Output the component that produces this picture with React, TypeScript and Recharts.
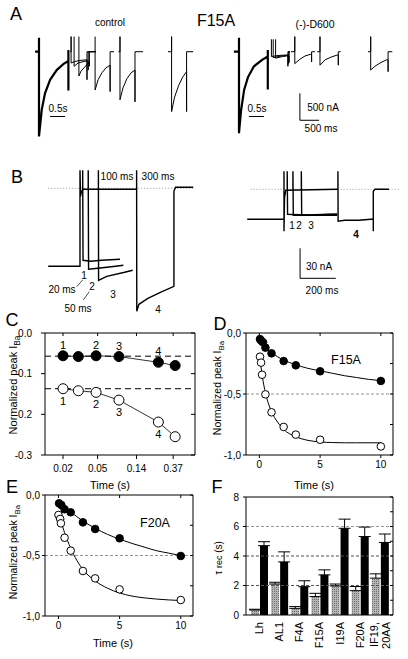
import React from 'react';
import {
  LineChart,
  Line,
  XAxis,
  YAxis,
  ReferenceLine,
  LabelList,
  BarChart,
  Bar,
  ErrorBar,
} from 'recharts';

const FONT = '"Liberation Sans", Arial, Helvetica, sans-serif';

// ---- panel A: current traces, time in s, current in µA ----
const ctlPrepulse = [[0.17, 0], [0.3, 0], [0.3, 0.26], [0.3, -1.57], [0.39, -1.08], [0.5, -0.77], [0.67, -0.52], [0.89, -0.34], [1.11, -0.23], [1.28, -0.17], [1.28, 0.03], [1.28, -0.72]];
const ctlTest1 = [[1.34, 0], [1.37, 0], [1.37, 0.28], [1.37, -0.21], [1.5, -0.18], [1.7, -0.16], [1.9, -0.15], [1.9, -0.52], [1.9, 0], [2.2, 0]];
const ctlTest2 = [[1.47, 0.28], [1.47, -0.27], [1.6, -0.21], [1.8, -0.18], [1.94, -0.17], [1.94, -0.34], [1.94, 0], [2.2, 0]];
const ctlTest3 = [[1.63, 0.28], [1.63, -0.45], [1.7, -0.36], [1.8, -0.3], [1.98, -0.19], [1.98, -0.27], [1.98, 0], [2.2, 0]];
const ctlTest4 = [[2.17, 0.28], [2.17, -0.71], [2.27, -0.52], [2.4, -0.39], [2.53, -0.3], [2.67, -0.25], [2.67, -0.74], [2.67, 0], [2.8, 0]];
const ctlTest5 = [[2.95, 0], [3.0, 0], [3.0, 0.28], [3.0, -0.89], [3.1, -0.67], [3.23, -0.5], [3.37, -0.39], [3.5, -0.34], [3.5, -0.93], [3.5, 0], [3.77, 0]];
const ctlTest6 = [[4.6, 0], [4.72, 0], [4.72, 0.28], [4.72, -1.11], [4.82, -0.84], [4.96, -0.62], [5.09, -0.47], [5.22, -0.37], [5.22, -1.11], [5.22, 0], [5.44, 0]];

const d600Prepulse = [[0.13, 0], [0.3, 0], [0.3, 0.26], [0.3, -1.51], [0.37, -1.08], [0.47, -0.71], [0.6, -0.47], [0.8, -0.27], [1.07, -0.15], [1.26, -0.09], [1.26, 0.03], [1.26, -0.7]];
const d600Test1 = [[1.38, 0.23], [1.38, -0.09], [1.6, -0.07], [1.93, -0.06], [1.93, -0.27], [1.93, 0], [2.0, 0]];
const d600Test2 = [[1.44, 0.23], [1.44, -0.11], [1.7, -0.08], [1.95, -0.07], [1.95, -0.22], [1.95, 0], [2.0, 0]];
const d600Test3 = [[1.52, 0.23], [1.52, -0.12], [1.75, -0.09], [1.97, -0.07], [1.97, -0.2], [1.97, 0], [2.0, 0]];
const d600Test4 = [[2.03, 0], [2.16, 0], [2.16, 0.28], [2.16, -0.22], [2.33, -0.14], [2.5, -0.08], [2.67, -0.05], [2.72, -0.05], [2.72, -0.19], [2.72, 0], [2.83, 0]];
const d600Test5 = [[2.91, 0], [3.0, 0], [3.0, 0.28], [3.0, -0.25], [3.17, -0.15], [3.37, -0.1], [3.58, -0.06], [3.61, -0.06], [3.61, -0.25], [3.61, 0], [3.69, 0]];
const d600Test6 = [[4.6, 0], [4.69, 0], [4.69, 0.28], [4.69, -0.34], [4.83, -0.27], [5.0, -0.21], [5.22, -0.15], [5.27, -0.15], [5.27, -0.37], [5.27, 0], [5.41, 0]];

// ---- panel B: time in ms after repolarisation, current in nA ----
const bCtlHold = [[-178, -78], [-12, -78], [0, -78], [0, 18], [3, -8], [8, -3], [20, -1], [317, -1]];
const bCtl1 = [[15, -1], [15, 18], [17, -72], [60, -73], [120, -72], [224, -71]];
const bCtl2 = [[46, -1], [46, 18], [48, -81], [100, -80], [200, -78], [243, -77]];
const bCtl3 = [[103, -1], [103, 18], [104, -92], [150, -88], [250, -84], [295, -82]];
const bCtl4 = [[317, -1], [317, 18], [318, -123], [330, -116], [380, -110], [450, -104], [526, -98], [526, -3], [535, 1], [634, 1]];

const bD600Hold = [[-206, -30], [0, -30], [0, 18], [0, -42], [3, -8], [10, -1], [302, 0]];
const bD6001 = [[18, 0], [18, 18], [20, -25], [150, -26], [298, -25]];
const bD6002 = [[50, 0], [50, 18], [52, -26], [200, -26], [298, -26]];
const bD6003 = [[97, 0], [97, 18], [99, -26], [250, -25], [298, -25]];
const bD6004 = [[302, 0], [302, 18], [303, -32], [340, -31], [420, -31], [486, -30], [500, -30], [500, -42], [500, -2], [510, 0], [588, 0]];

// ---- panel C ----
const cTimes = [0.02, 0.03, 0.048, 0.088, 0.25, 0.39];
const cFilled = [-0.056, -0.058, -0.056, -0.058, -0.072, -0.08];
const cOpen = [-0.137, -0.142, -0.146, -0.165, -0.219, -0.255];
const cFilledLabels = ['1', '', '2', '3', '4', ''];
const cOpenLabels = ['1', '', '2', '3', '4', ''];
const cPlateaus = [-0.057, -0.137];

// ---- panel D (F15A) ----
const dFilledT = [0.05, 0.15, 0.3, 0.5, 1, 2, 3, 5, 10];
const dFilled = [-0.05, -0.063, -0.076, -0.12, -0.167, -0.23, -0.265, -0.314, -0.393];
const dOpenT = [0.05, 0.14, 0.22, 0.5, 1, 2, 3, 5, 10];
const dOpen = [-0.194, -0.243, -0.342, -0.503, -0.65, -0.77, -0.833, -0.875, -0.93];
const dFitFilledT = [0, 0.25, 0.5, 1, 1.5, 2, 3, 4, 5, 6, 7, 8, 9, 10];
const dFitFilled = [-0.035, -0.08, -0.115, -0.16, -0.195, -0.222, -0.26, -0.29, -0.31, -0.33, -0.35, -0.365, -0.38, -0.39];
const dFitOpenT = [0, 0.25, 0.5, 0.75, 1, 1.5, 2, 3, 4, 5, 6, 7, 8, 10];
const dFitOpen = [-0.17, -0.36, -0.49, -0.58, -0.645, -0.73, -0.79, -0.85, -0.88, -0.893, -0.898, -0.9, -0.9, -0.9];

// ---- panel E (F20A) ----
const eFilledT = [0.05, 0.24, 0.5, 1, 2, 3, 5, 10];
const eFilled = [-0.069, -0.083, -0.118, -0.143, -0.226, -0.281, -0.358, -0.504];
const eOpenT = [0, 0.14, 0.2, 0.5, 1, 2, 3, 5, 10];
const eOpen = [-0.165, -0.198, -0.234, -0.353, -0.46, -0.628, -0.689, -0.78, -0.868];
const eFitFilledT = [0, 1, 2, 3, 4, 5, 6, 7, 8, 9, 10];
const eFitFilled = [-0.06, -0.14, -0.215, -0.275, -0.325, -0.365, -0.4, -0.43, -0.46, -0.48, -0.5];
const eFitOpenT = [0, 0.5, 1, 1.5, 2, 3, 4, 5, 6, 7, 8, 9, 10];
const eFitOpen = [-0.15, -0.31, -0.44, -0.54, -0.615, -0.71, -0.77, -0.81, -0.835, -0.85, -0.86, -0.867, -0.872];

// ---- panel F ----
const constructs = ['Lh', 'AL1', 'F4A', 'F15A', 'I19A', 'F20A', 'IF19,\n20AA'];
const tauControl = [0.34, 2.1, 0.45, 1.25, 1.97, 1.65, 2.5];
const tauControlErr = [0.05, 0.12, 0.12, 0.22, 0.13, 0.28, 0.29];
const tauD600 = [4.7, 3.6, 1.92, 2.72, 5.88, 5.32, 4.92];
const tauD600Err = [0.27, 0.68, 0.4, 0.34, 0.62, 0.64, 0.57];

const toPts = (arr: number[][]) => arr.map(([t, v]) => ({ t, v }));
const zipPts = (ts: number[], vs: number[], labels?: string[]) =>
  ts.map((t, k) => ({ t, v: vs[k], lab: labels ? labels[k] : '' }));

const fData = constructs.map((name, k) => ({
  name,
  gray: tauControl[k],
  grayE: [0, tauControlErr[k]],
  black: tauD600[k],
  blackE: [0, tauD600Err[k]],
}));

const Txt = ({ x, y, s = 10, children, bold = false }: any) => (
  <div
    style={{
      position: 'absolute',
      left: x,
      top: y,
      fontSize: s,
      lineHeight: 1,
      whiteSpace: 'nowrap',
      fontWeight: bold ? 'bold' : 'normal',
      transform: 'translate(-50%, -50%)',
    }}
  >
    {children}
  </div>
);

const VTxt = ({ x, y, s = 10, children }: any) => (
  <div
    style={{
      position: 'absolute',
      left: x,
      top: y,
      fontSize: s,
      lineHeight: 1,
      whiteSpace: 'nowrap',
      transform: 'translate(-50%, -50%) rotate(-90deg)',
    }}
  >
    {children}
  </div>
);

const TraceChart = ({ left, top, width, height, xDomain, yDomain, sweeps, thick = [], lw = 1, extras = [] }: any) => (
  <div style={{ position: 'absolute', left, top }}>
    <LineChart width={width} height={height} margin={{ top: 0, right: 0, bottom: 0, left: 0 }}>
      <XAxis type="number" dataKey="t" domain={xDomain} allowDataOverflow hide />
      <YAxis type="number" domain={yDomain} allowDataOverflow hide />
      {extras}
      {sweeps.map((s: number[][], k: number) => (
        <Line
          key={k}
          data={toPts(s)}
          dataKey="v"
          type="linear"
          stroke="#000"
          strokeWidth={thick.includes(k) ? 2.2 : lw}
          dot={false}
          isAnimationActive={false}
        />
      ))}
    </LineChart>
  </div>
);

const seg = (x1: number, y1: number, x2: number, y2: number, k: string, props: any = {}) => (
  <ReferenceLine
    key={k}
    segment={[{ x: x1, y: y1 }, { x: x2, y: y2 }]}
    stroke="#000"
    strokeWidth={1}
    {...props}
  />
);

const axisStyle = { fill: '#000', fontSize: 10 };
const blank = () => '';
const comma = (v: number) => v.toFixed(1).replace('.', ',');

const TimeCourse = ({ left, top, width, height, yWidth, right, fitF, fitO, ptsF, ptsO }: any) => (
  <div style={{ position: 'absolute', left, top }}>
    <LineChart width={width} height={height} margin={{ top: 10, right, bottom: 0, left: 0 }}>
      <XAxis type="number" dataKey="t" domain={[-1.1, 11]} allowDataOverflow ticks={[0, 5, 10]} tickSize={3} tickMargin={3} height={20} stroke="#000" tick={axisStyle} />
      <XAxis xAxisId="top" orientation="top" mirror type="number" dataKey="t" domain={[-1.1, 11]} allowDataOverflow ticks={[0, 5, 10]} tickSize={3} tickFormatter={blank} stroke="#000" />
      <YAxis type="number" domain={[-1, 0]} allowDataOverflow ticks={[0, -0.5, -1]} tickFormatter={comma} width={yWidth} tickSize={3} tickMargin={2} stroke="#000" tick={axisStyle} />
      <YAxis yAxisId="r" orientation="right" mirror type="number" domain={[-1, 0]} allowDataOverflow ticks={[0, -0.25, -0.5, -0.75, -1]} tickFormatter={blank} tickSize={3} stroke="#000" />
      <ReferenceLine y={-0.5} stroke="#777" strokeDasharray="3 2" strokeWidth={0.8} />
      <Line data={fitF} dataKey="v" type="monotone" stroke="#000" strokeWidth={1} dot={false} isAnimationActive={false} />
      <Line data={fitO} dataKey="v" type="monotone" stroke="#000" strokeWidth={1} dot={false} isAnimationActive={false} />
      <Line data={ptsO} dataKey="v" stroke="none" strokeWidth={0} dot={{ r: 3.8, fill: '#fff', stroke: '#000', strokeWidth: 1 }} isAnimationActive={false} />
      <Line data={ptsF} dataKey="v" stroke="none" strokeWidth={0} dot={{ r: 3.8, fill: '#000', stroke: '#000', strokeWidth: 1 }} isAnimationActive={false} />
    </LineChart>
  </div>
);

const CatTick = ({ x, y, payload }: any) => {
  const lines = String(payload.value).split('\n');
  return (
    <g transform={`translate(${x},${y + 5})`}>
      <text transform="rotate(-90)" textAnchor="end" fontSize={11} fill="#000">
        {lines.map((l, k) => (
          <tspan key={k} x={0} dy={k === 0 ? (lines.length > 1 ? '-0.2em' : '0.35em') : '1.1em'}>
            {l}
          </tspan>
        ))}
      </text>
    </g>
  );
};

const Ylabel = () => (
  <span>
    Normalized peak I<sub style={{ fontSize: '0.75em' }}>Ba</sub>
  </span>
);

export default function App() {
  const cF = zipPts(cTimes, cFilled, cFilledLabels);
  const cO = zipPts(cTimes, cOpen, cOpenLabels);

  return (
    <div
      style={{
        position: 'absolute',
        left: 0,
        top: 0,
        width: 408,
        height: 659,
        background: '#fff',
        fontFamily: FONT,
        color: '#000',
        overflow: 'hidden',
      }}
    >
      {/* ---------- A ---------- */}
      <Txt x={16} y={14} s={18}>A</Txt>
      <Txt x={110} y={23} s={10}>control</Txt>
      <Txt x={216} y={21} s={16}>F15A</Txt>
      <Txt x={315} y={24} s={10.5}>(-)-D600</Txt>
      <TraceChart
        left={30}
        top={30}
        width={170}
        height={115}
        xDomain={[0, 5.667]}
        yDomain={[-1.728, 0.402]}
        sweeps={[ctlPrepulse, ctlTest1, ctlTest2, ctlTest3, ctlTest4, ctlTest5, ctlTest6]}
        thick={[0]}
        extras={[seg(0.67, -1.2, 1.17, -1.2, 'sb1')]}
      />
      <TraceChart
        left={230}
        top={30}
        width={170}
        height={115}
        xDomain={[0, 5.667]}
        yDomain={[-1.728, 0.402]}
        sweeps={[d600Prepulse, d600Test1, d600Test2, d600Test3, d600Test4, d600Test5, d600Test6]}
        thick={[0]}
        extras={[
          seg(0.63, -1.2, 1.13, -1.2, 'sb2'),
          seg(2.33, -0.77, 2.33, -1.27, 'sb3'),
          seg(2.33, -1.27, 2.97, -1.27, 'sb4'),
        ]}
      />
      <Txt x={58} y={109} s={10}>0.5s</Txt>
      <Txt x={257} y={109} s={10}>0.5s</Txt>
      <Txt x={323} y={108} s={10}>500 nA</Txt>
      <Txt x={321} y={129} s={10}>500 ms</Txt>

      {/* ---------- B ---------- */}
      <Txt x={17} y={177} s={18}>B</Txt>
      <TraceChart
        left={45}
        top={165}
        width={155}
        height={150}
        xDomain={[-196, 672]}
        yDomain={[-126.7, 23.3]}
        sweeps={[bCtlHold, bCtl1, bCtl2, bCtl3, bCtl4]}
        lw={1.4}
        extras={[
          seg(-178, 0, 634, 0, 'bl1', { stroke: '#999', strokeDasharray: '1 2' }),
          seg(-18.5, -98.4, 15, -91.7, 'lb1', { strokeWidth: 0.7 }),
          seg(18.5, -111.7, 52, -103.4, 'lb2', { strokeWidth: 0.7 }),
        ]}
      />
      <TraceChart
        left={245}
        top={165}
        width={160}
        height={135}
        xDomain={[-218.4, 677.6]}
        yDomain={[-110.7, 24.3]}
        sweeps={[bD600Hold, bD6001, bD6002, bD6003, bD6004]}
        lw={1.4}
        extras={[
          seg(-187, 0, 653, 0, 'bl2', { stroke: '#999', strokeDasharray: '1 2' }),
          seg(90, -59, 90, -89, 'sb5'),
          seg(90, -89, 290, -89, 'sb6'),
        ]}
      />
      <Txt x={117} y={177} s={10}>100 ms</Txt>
      <Txt x={158} y={177} s={10}>300 ms</Txt>
      <Txt x={62} y={290} s={10}>20 ms</Txt>
      <Txt x={84} y={276} s={10}>1</Txt>
      <Txt x={92} y={287} s={10}>2</Txt>
      <Txt x={78} y={309} s={10}>50 ms</Txt>
      <Txt x={113} y={295} s={10}>3</Txt>
      <Txt x={158} y={310} s={10}>4</Txt>
      <Txt x={292} y={226} s={10}>1</Txt>
      <Txt x={299} y={226} s={10}>2</Txt>
      <Txt x={311} y={226} s={10}>3</Txt>
      <Txt x={356} y={235} s={10} bold>4</Txt>
      <Txt x={319} y={267} s={10}>30 nA</Txt>
      <Txt x={322} y={291} s={10}>200 ms</Txt>

      {/* ---------- C ---------- */}
      <Txt x={12} y={320} s={18}>C</Txt>
      <div style={{ position: 'absolute', left: 0, top: 323 }}>
        <LineChart width={205} height={162} margin={{ top: 10, right: 10, bottom: 0, left: 0 }}>
          <XAxis type="number" dataKey="t" scale="log" domain={[0.0124, 0.66]} allowDataOverflow ticks={[0.02, 0.05, 0.14, 0.37]} tickFormatter={(v: number) => String(v)} tickSize={4} tickMargin={6} height={30} stroke="#000" tick={axisStyle} />
          <XAxis xAxisId="top" orientation="top" mirror type="number" dataKey="t" scale="log" domain={[0.0124, 0.66]} allowDataOverflow ticks={[0.02, 0.05, 0.14, 0.37]} tickFormatter={blank} tickSize={3} stroke="#000" />
          <YAxis type="number" domain={[-0.3, 0]} allowDataOverflow ticks={[0, -0.1, -0.2, -0.3]} tickFormatter={(v: number) => v.toFixed(1)} width={45} tickSize={4} tickMargin={9} stroke="#000" tick={axisStyle} />
          <YAxis yAxisId="r" orientation="right" mirror type="number" domain={[-0.3, 0]} allowDataOverflow ticks={[0, -0.1, -0.2, -0.3]} tickFormatter={blank} tickSize={4} stroke="#000" />
          {cPlateaus.map((p) => (
            <ReferenceLine key={p} y={p} stroke="#000" strokeDasharray="6 4" strokeWidth={1} />
          ))}
          <Line data={cO} dataKey="v" type="linear" stroke="#000" strokeWidth={0.8} dot={{ r: 5, fill: '#fff', stroke: '#000', strokeWidth: 1 }} isAnimationActive={false}>
            <LabelList dataKey="lab" position="bottom" offset={8} fontSize={11} fill="#000" />
          </Line>
          <Line data={cF} dataKey="v" type="linear" stroke="#000" strokeWidth={0.8} dot={{ r: 5, fill: '#000', stroke: '#000', strokeWidth: 1 }} isAnimationActive={false}>
            <LabelList dataKey="lab" position="top" offset={7} fontSize={11} fill="#000" />
          </Line>
        </LineChart>
      </div>
      <VTxt x={15} y={385} s={11}><Ylabel /></VTxt>
      <Txt x={110} y={485} s={11}>Time (s)</Txt>

      {/* ---------- D ---------- */}
      <Txt x={220} y={324} s={18}>D</Txt>
      <TimeCourse
        left={204}
        top={323}
        width={204}
        height={152}
        yWidth={42}
        right={15}
        fitF={zipPts(dFitFilledT, dFitFilled)}
        fitO={zipPts(dFitOpenT, dFitOpen)}
        ptsF={zipPts(dFilledT, dFilled)}
        ptsO={zipPts(dOpenT, dOpen)}
      />
      <Txt x={346} y={360} s={12.5}>F15A</Txt>
      <VTxt x={219} y={388} s={10.5}><Ylabel /></VTxt>
      <Txt x={314} y={485} s={11}>Time (s)</Txt>

      {/* ---------- E ---------- */}
      <Txt x={12} y={487} s={18}>E</Txt>
      <TimeCourse
        left={0}
        top={485}
        width={204}
        height={151}
        yWidth={45}
        right={11}
        fitF={zipPts(eFitFilledT, eFitFilled)}
        fitO={zipPts(eFitOpenT, eFitOpen)}
        ptsF={zipPts(eFilledT, eFilled)}
        ptsO={zipPts(eOpenT, eOpen)}
      />
      <Txt x={155} y={523} s={12.5}>F20A</Txt>
      <VTxt x={15} y={552} s={10.5}><Ylabel /></VTxt>
      <Txt x={113} y={643} s={11}>Time (s)</Txt>

      {/* ---------- F ---------- */}
      <Txt x={217} y={487} s={18}>F</Txt>
      <div style={{ position: 'absolute', left: 204, top: 487 }}>
        <BarChart width={204} height={172} data={fData} margin={{ top: 10, right: 15, bottom: 0, left: 0 }} barGap={1} barSize={8}>
          <defs>
            <pattern id="dotFill" width={2} height={2} patternUnits="userSpaceOnUse">
              <rect width={2} height={2} fill="#b4b4b4" />
              <rect width={1} height={1} fill="#707070" />
            </pattern>
          </defs>
          <XAxis dataKey="name" interval={0} tickSize={0} tickLine={false} height={44} padding={{ left: 3, right: 3 }} stroke="#000" tick={<CatTick />} />
          <XAxis xAxisId="top" orientation="top" mirror dataKey="name" tick={false} tickLine={false} padding={{ left: 3, right: 3 }} stroke="#000" />
          <YAxis type="number" domain={[0, 8]} allowDataOverflow ticks={[0, 2, 4, 6, 8]} width={42} tickSize={3} tickMargin={4} stroke="#000" tick={axisStyle} />
          <YAxis yAxisId="r" orientation="right" mirror type="number" domain={[0, 8]} allowDataOverflow ticks={[0, 1, 2, 3, 4, 5, 6, 7, 8]} tickFormatter={blank} tickSize={3} stroke="#000" />
          <ReferenceLine y={2} stroke="#555" strokeDasharray="3 2" />
          <ReferenceLine y={4} stroke="#555" strokeDasharray="3 2" />
          <ReferenceLine y={6} stroke="#999" strokeDasharray="3 2" />
          <Bar dataKey="gray" fill="url(#dotFill)" isAnimationActive={false}>
            <ErrorBar dataKey="grayE" width={6} stroke="#000" strokeWidth={1} direction="y" />
          </Bar>
          <Bar dataKey="black" fill="#000" isAnimationActive={false}>
            <ErrorBar dataKey="blackE" width={6} stroke="#000" strokeWidth={1} direction="y" />
          </Bar>
        </BarChart>
      </div>
      <VTxt x={219} y={558} s={10}>
        <span>
          τ <span style={{ fontSize: '0.9em' }}>rec</span> (s)
        </span>
      </VTxt>
    </div>
  );
}
